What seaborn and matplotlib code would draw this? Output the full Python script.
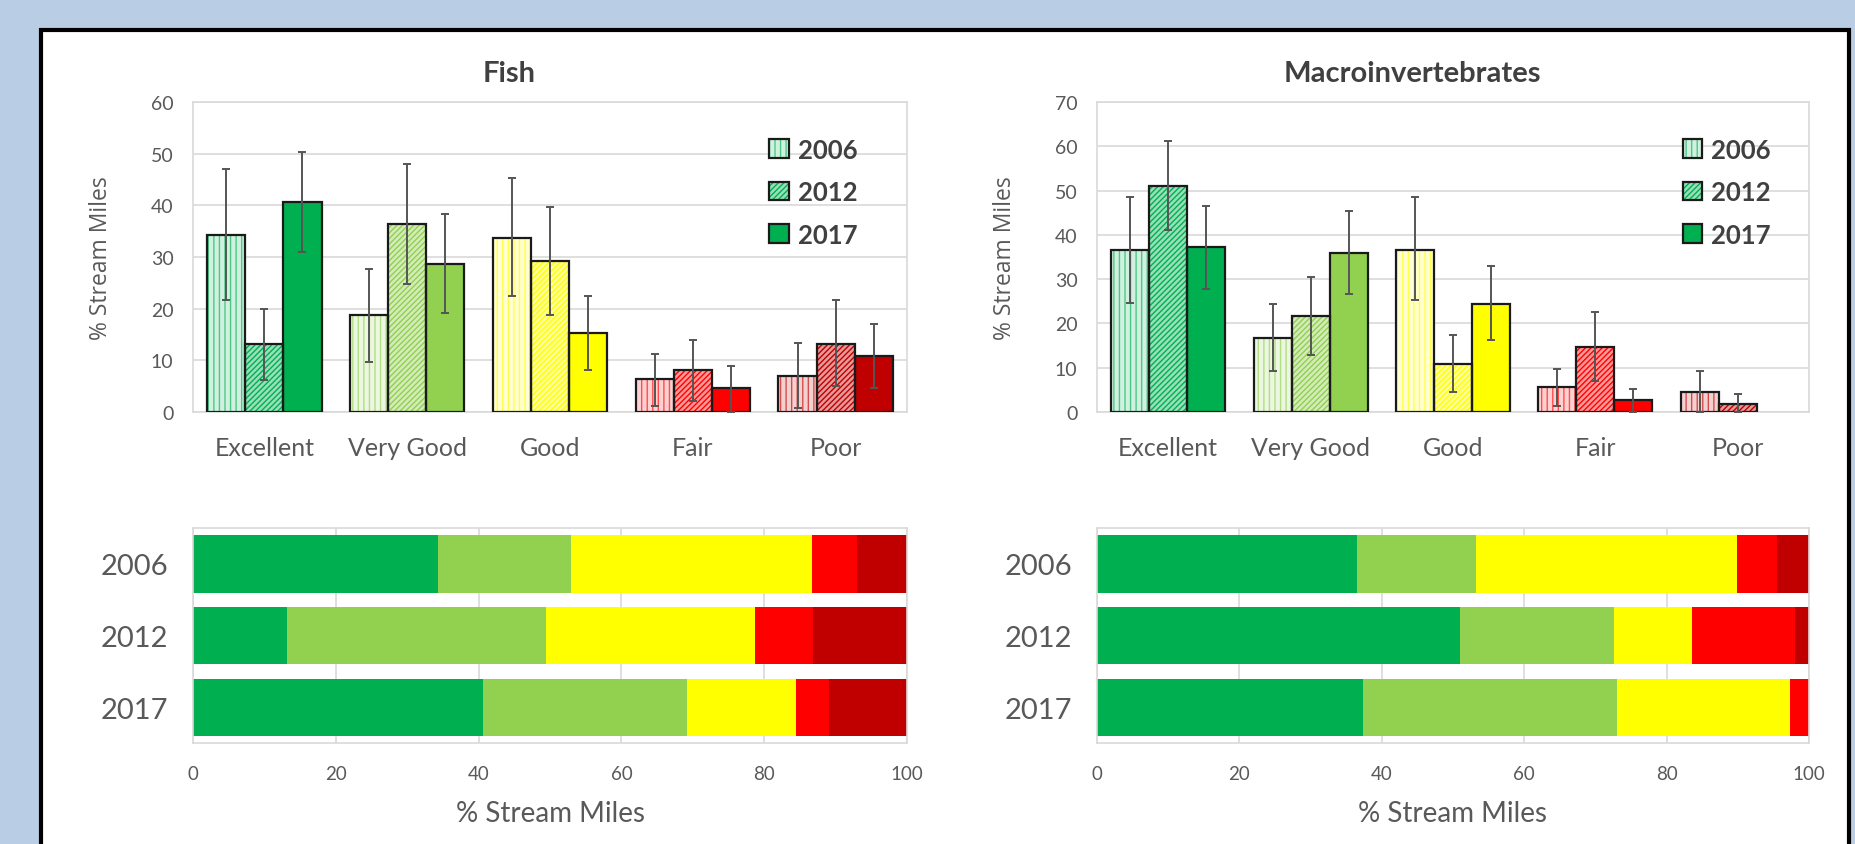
import numpy as np
import pandas as pd
import seaborn as sns
import matplotlib.pyplot as plt
from matplotlib.patches import Rectangle, Patch
from matplotlib.colors import to_rgb

conditions = ['Excellent', 'Very Good', 'Good', 'Fair', 'Poor']
years = ['2006', '2012', '2017']
cond_colors = ['#00B050', '#92D050', '#FFFF00', '#FF0000', '#C00000']

# fish, % stream miles with lower / upper bounds
fish_2006 = [34.3, 18.7, 33.7, 6.3, 7.0]
fish_2006_lo = [21.6, 9.7, 22.4, 1.2, 0.8]
fish_2006_hi = [47.1, 27.6, 45.2, 11.3, 13.3]
fish_2012 = [13.1, 36.3, 29.3, 8.1, 13.2]
fish_2012_lo = [6.2, 24.7, 18.8, 2.1, 5.1]
fish_2012_hi = [20.0, 48.0, 39.7, 13.9, 21.6]
fish_2017 = [40.6, 28.6, 15.3, 4.6, 10.9]
fish_2017_lo = [30.9, 19.2, 8.1, 0.0, 4.6]
fish_2017_hi = [50.3, 38.3, 22.5, 9.0, 17.0]

# macroinvertebrates
macro_2006 = [36.5, 16.8, 36.6, 5.6, 4.5]
macro_2006_lo = [24.6, 9.3, 25.2, 1.3, 0.0]
macro_2006_hi = [48.5, 24.4, 48.5, 9.8, 9.3]
macro_2012 = [51.0, 21.6, 10.9, 14.6, 1.9]
macro_2012_lo = [41.0, 12.8, 4.5, 7.1, 0.0]
macro_2012_hi = [61.3, 30.4, 17.3, 22.6, 4.0]
macro_2017 = [37.3, 35.8, 24.3, 2.6, 0.0]
macro_2017_lo = [27.7, 26.7, 16.2, 0.0, np.nan]
macro_2017_hi = [46.6, 45.4, 32.9, 5.3, np.nan]

fish = [(fish_2006, fish_2006_lo, fish_2006_hi),
        (fish_2012, fish_2012_lo, fish_2012_hi),
        (fish_2017, fish_2017_lo, fish_2017_hi)]
macro = [(macro_2006, macro_2006_lo, macro_2006_hi),
         (macro_2012, macro_2012_lo, macro_2012_hi),
         (macro_2017, macro_2017_lo, macro_2017_hi)]

sns.set_style('white')
plt.rcParams['font.family'] = ['Lato', 'DejaVu Sans']
plt.rcParams['hatch.linewidth'] = 1.0

TXT = '#595959'
GRID = '#d9d9d9'


def tint(c, f):
    r = np.array(to_rgb(c))
    return tuple(r + (1 - r) * f)


def bar_style(k, c):
    # 2006 pale with vertical lines, 2012 diagonal hatch, 2017 solid
    if k == 0:
        return tint(c, 0.82), '|||', tint(c, 0.3)
    if k == 1:
        return tint(c, 0.6), '//////', c
    return c, None, c


def frame(ax):
    for s in ax.spines.values():
        s.set_visible(True)
        s.set_color(GRID)
        s.set_linewidth(1.2)
    ax.tick_params(length=0, colors=TXT)


def top_chart(ax, data, title, ymax, legend_xy):
    rows = []
    for k, (vals, lo, hi) in enumerate(data):
        for j, cnd in enumerate(conditions):
            rows.append({'cond': cnd, 'year': years[k], 'val': vals[j]})
    df = pd.DataFrame(rows)
    sns.barplot(data=df, x='cond', y='val', hue='year', order=conditions, hue_order=years,
                palette=['#00B050'] * 3, saturation=1, errorbar=None, width=0.8,
                legend=False, ax=ax, zorder=2)
    conts = list(ax.containers)
    for k, cont in enumerate(conts):
        vals, lo, hi = data[k]
        for j, bar in enumerate(cont):
            fc, hatch, hc = bar_style(k, cond_colors[j])
            bar.set_facecolor(fc)
            bar.set_edgecolor(hc)
            bar.set_hatch(hatch)
            bar.set_linewidth(0)
            x, w, h = bar.get_x(), bar.get_width(), bar.get_height()
            if h > 0:
                ax.add_patch(Rectangle((x, 0), w, h, fill=False, ec='#1a1a1a', lw=1.6, zorder=3))
            if not np.isnan(hi[j]):
                ax.errorbar(x + w / 2, vals[j], yerr=[[vals[j] - lo[j]], [hi[j] - vals[j]]],
                            fmt='none', ecolor='#555555', elinewidth=1.4, capsize=3,
                            capthick=1.4, zorder=4)
    ax.set_ylim(0, ymax)
    ax.set_xlim(-0.5, 4.5)
    ax.set_yticks(range(0, ymax + 1, 10))
    ax.yaxis.grid(True, color=GRID, lw=1.2, zorder=0)
    ax.set_axisbelow(True)
    frame(ax)
    ax.tick_params(axis='y', labelsize=14, pad=14)
    ax.tick_params(axis='x', labelsize=18, pad=17)
    ax.set_xlabel('')
    ax.set_ylabel('% Stream Miles', fontsize=16.5, color=TXT, family=['Open Sans', 'DejaVu Sans'])
    ax.yaxis.set_label_coords(-0.112, 0.5)
    ax.set_title(title, fontsize=21, fontweight='bold', color='#404040', x=0.443, pad=15)
    handles = []
    for k in range(3):
        fc, hatch, hc = bar_style(k, cond_colors[0])
        handles.append((Patch(facecolor=fc, hatch=hatch, edgecolor=hc, lw=0),
                        Patch(fill=False, edgecolor='#1a1a1a', lw=1.6)))
    leg = ax.legend(handles, years, loc='upper left', bbox_to_anchor=legend_xy, frameon=False,
                    prop={'size': 18.5, 'weight': 'bold'}, handlelength=0.75, handleheight=0.75,
                    handletextpad=0.35, labelspacing=0.72)
    for t in leg.get_texts():
        t.set_color('#404040')


def stacked_chart(ax, data):
    vals = np.array([d[0] for d in data])
    cum = np.cumsum(vals, axis=1)
    for j in range(len(conditions) - 1, -1, -1):
        sns.barplot(x=cum[:, j], y=years, orient='h', color=cond_colors[j], saturation=1,
                    width=0.8, linewidth=0, ax=ax, zorder=2)
    ax.set_xlim(0, 100)
    ax.set_xticks(range(0, 101, 20))
    ax.xaxis.grid(True, color=GRID, lw=1.2, zorder=0)
    ax.set_axisbelow(True)
    frame(ax)
    ax.tick_params(axis='y', labelsize=21, pad=18)
    ax.tick_params(axis='x', labelsize=13.5, pad=16)
    ax.set_xlabel('% Stream Miles', fontsize=20, color=TXT, labelpad=13)
    ax.set_ylabel('')


fig = plt.figure(figsize=(18.55, 8.45), dpi=100)
fig.patch.set_facecolor('#b9cde5')
fig.add_artist(Rectangle((0.0221, -0.05), 0.9747, 1.0133, transform=fig.transFigure,
                         fc='white', ec='black', lw=3, zorder=-1))

W, H = 1855, 845
def pos(l, r, t, b):
    return [l / W, 1 - b / H, (r - l) / W, (b - t) / H]

ax1 = fig.add_axes(pos(193, 907, 103, 413))
ax2 = fig.add_axes(pos(1097, 1809, 103, 413))
ax3 = fig.add_axes(pos(193, 907, 529, 744))
ax4 = fig.add_axes(pos(1097, 1809, 529, 744))

top_chart(ax1, fish, 'Fish', 60, (0.775, 0.96))
top_chart(ax2, macro, 'Macroinvertebrates', 70, (0.79, 0.96))
stacked_chart(ax3, fish)
stacked_chart(ax4, macro)

fig.savefig('out.png', dpi=100, facecolor=fig.get_facecolor())
